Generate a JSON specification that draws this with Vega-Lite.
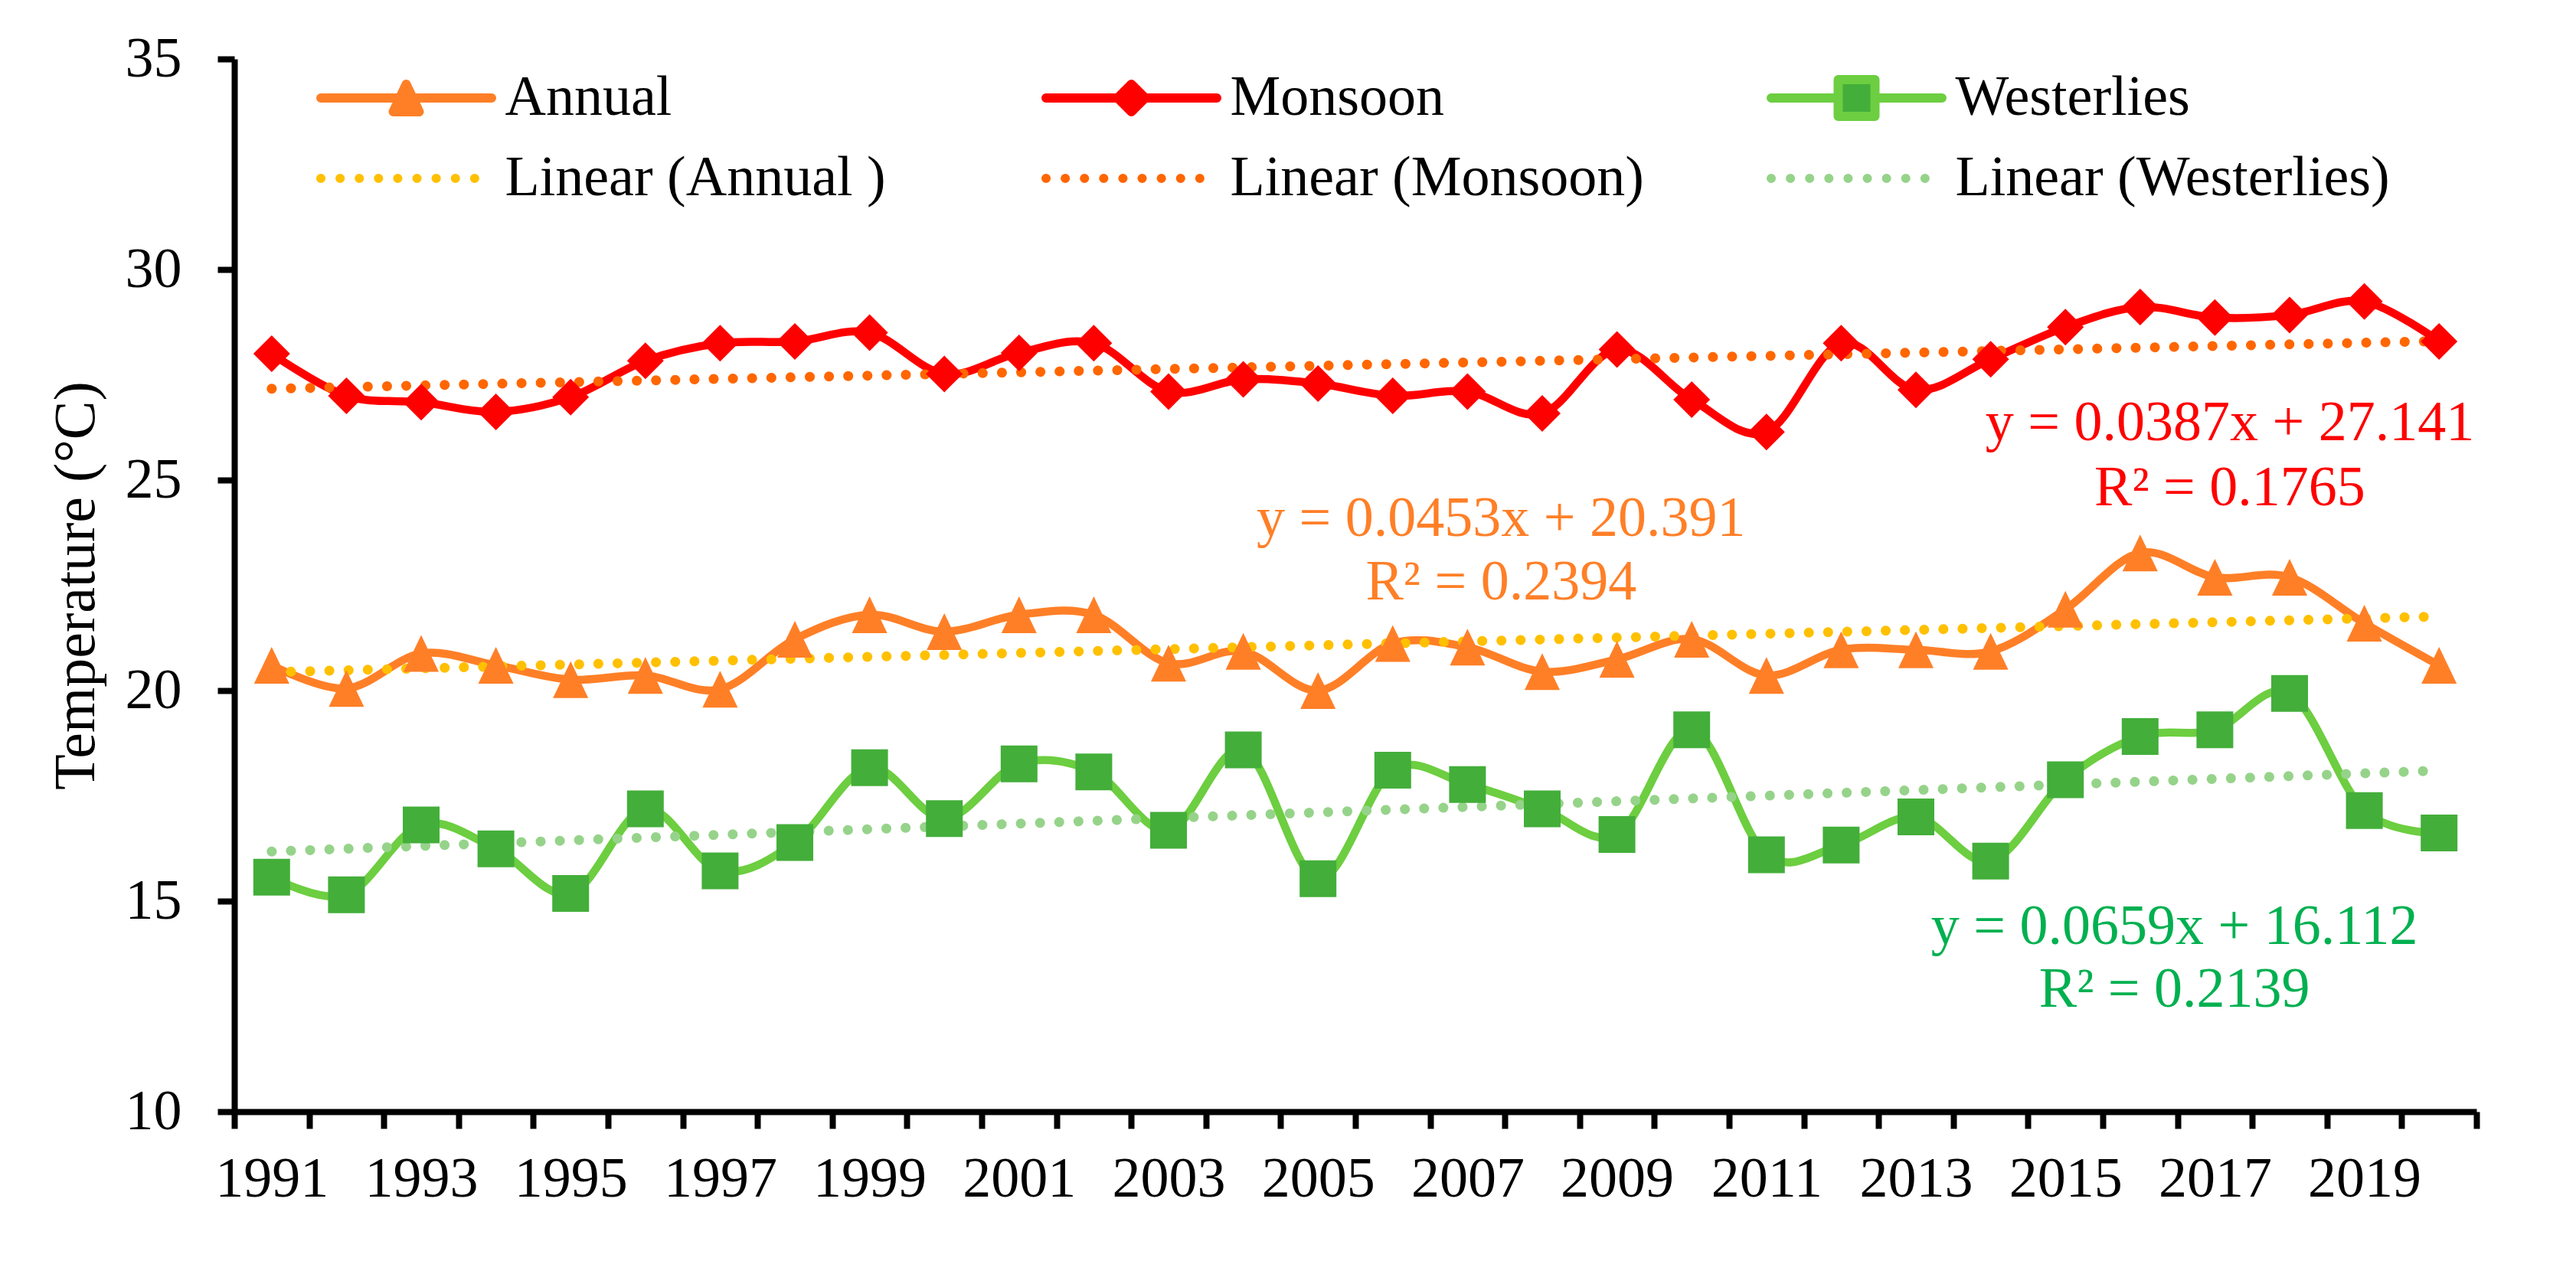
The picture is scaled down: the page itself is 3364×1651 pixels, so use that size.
{
  "$schema": "https://vega.github.io/schema/vega-lite/v6.json",
  "width": 2928,
  "height": 1375,
  "autosize": {"type": "none"},
  "padding": {"left": 306, "top": 77, "right": 130, "bottom": 199},
  "background": "white",
  "config": {
    "view": {"stroke": null},
    "font": "Liberation Serif",
    "axis": {
      "domainColor": "black", "domainWidth": 8,
      "tickColor": "black", "tickWidth": 8, "tickSize": 22,
      "labelFont": "Liberation Serif", "labelFontSize": 74, "labelColor": "black",
      "titleFont": "Liberation Serif", "titleColor": "black", "titleFontWeight": "normal",
      "grid": false
    }
  },
  "datasets": {
    "main": [
      {"year": 1991, "series": "Annual", "trend": "Linear (Annual )", "temp": 20.6},
      {"year": 1992, "series": "Annual", "trend": "Linear (Annual )", "temp": 20.05},
      {"year": 1993, "series": "Annual", "trend": "Linear (Annual )", "temp": 20.88},
      {"year": 1994, "series": "Annual", "trend": "Linear (Annual )", "temp": 20.6},
      {"year": 1995, "series": "Annual", "trend": "Linear (Annual )", "temp": 20.26},
      {"year": 1996, "series": "Annual", "trend": "Linear (Annual )", "temp": 20.36},
      {"year": 1997, "series": "Annual", "trend": "Linear (Annual )", "temp": 20.03},
      {"year": 1998, "series": "Annual", "trend": "Linear (Annual )", "temp": 21.22},
      {"year": 1999, "series": "Annual", "trend": "Linear (Annual )", "temp": 21.8},
      {"year": 2000, "series": "Annual", "trend": "Linear (Annual )", "temp": 21.4},
      {"year": 2001, "series": "Annual", "trend": "Linear (Annual )", "temp": 21.8},
      {"year": 2002, "series": "Annual", "trend": "Linear (Annual )", "temp": 21.8},
      {"year": 2003, "series": "Annual", "trend": "Linear (Annual )", "temp": 20.65},
      {"year": 2004, "series": "Annual", "trend": "Linear (Annual )", "temp": 20.93},
      {"year": 2005, "series": "Annual", "trend": "Linear (Annual )", "temp": 20.0},
      {"year": 2006, "series": "Annual", "trend": "Linear (Annual )", "temp": 21.12},
      {"year": 2007, "series": "Annual", "trend": "Linear (Annual )", "temp": 21.03},
      {"year": 2008, "series": "Annual", "trend": "Linear (Annual )", "temp": 20.45},
      {"year": 2009, "series": "Annual", "trend": "Linear (Annual )", "temp": 20.74},
      {"year": 2010, "series": "Annual", "trend": "Linear (Annual )", "temp": 21.22},
      {"year": 2011, "series": "Annual", "trend": "Linear (Annual )", "temp": 20.36},
      {"year": 2012, "series": "Annual", "trend": "Linear (Annual )", "temp": 20.97},
      {"year": 2013, "series": "Annual", "trend": "Linear (Annual )", "temp": 20.97},
      {"year": 2014, "series": "Annual", "trend": "Linear (Annual )", "temp": 20.93},
      {"year": 2015, "series": "Annual", "trend": "Linear (Annual )", "temp": 21.93},
      {"year": 2016, "series": "Annual", "trend": "Linear (Annual )", "temp": 23.27},
      {"year": 2017, "series": "Annual", "trend": "Linear (Annual )", "temp": 22.69},
      {"year": 2018, "series": "Annual", "trend": "Linear (Annual )", "temp": 22.69},
      {"year": 2019, "series": "Annual", "trend": "Linear (Annual )", "temp": 21.6},
      {"year": 2020, "series": "Annual", "trend": "Linear (Annual )", "temp": 20.6},
      {"year": 1991, "series": "Monsoon", "trend": "Linear (Monsoon)", "temp": 28.0},
      {"year": 1992, "series": "Monsoon", "trend": "Linear (Monsoon)", "temp": 27.0},
      {"year": 1993, "series": "Monsoon", "trend": "Linear (Monsoon)", "temp": 26.85},
      {"year": 1994, "series": "Monsoon", "trend": "Linear (Monsoon)", "temp": 26.62},
      {"year": 1995, "series": "Monsoon", "trend": "Linear (Monsoon)", "temp": 26.97},
      {"year": 1996, "series": "Monsoon", "trend": "Linear (Monsoon)", "temp": 27.83},
      {"year": 1997, "series": "Monsoon", "trend": "Linear (Monsoon)", "temp": 28.25},
      {"year": 1998, "series": "Monsoon", "trend": "Linear (Monsoon)", "temp": 28.29},
      {"year": 1999, "series": "Monsoon", "trend": "Linear (Monsoon)", "temp": 28.5},
      {"year": 2000, "series": "Monsoon", "trend": "Linear (Monsoon)", "temp": 27.52},
      {"year": 2001, "series": "Monsoon", "trend": "Linear (Monsoon)", "temp": 28.02},
      {"year": 2002, "series": "Monsoon", "trend": "Linear (Monsoon)", "temp": 28.25},
      {"year": 2003, "series": "Monsoon", "trend": "Linear (Monsoon)", "temp": 27.1},
      {"year": 2004, "series": "Monsoon", "trend": "Linear (Monsoon)", "temp": 27.39},
      {"year": 2005, "series": "Monsoon", "trend": "Linear (Monsoon)", "temp": 27.29},
      {"year": 2006, "series": "Monsoon", "trend": "Linear (Monsoon)", "temp": 27.0},
      {"year": 2007, "series": "Monsoon", "trend": "Linear (Monsoon)", "temp": 27.1},
      {"year": 2008, "series": "Monsoon", "trend": "Linear (Monsoon)", "temp": 26.58},
      {"year": 2009, "series": "Monsoon", "trend": "Linear (Monsoon)", "temp": 28.1},
      {"year": 2010, "series": "Monsoon", "trend": "Linear (Monsoon)", "temp": 26.91},
      {"year": 2011, "series": "Monsoon", "trend": "Linear (Monsoon)", "temp": 26.14},
      {"year": 2012, "series": "Monsoon", "trend": "Linear (Monsoon)", "temp": 28.25},
      {"year": 2013, "series": "Monsoon", "trend": "Linear (Monsoon)", "temp": 27.14},
      {"year": 2014, "series": "Monsoon", "trend": "Linear (Monsoon)", "temp": 27.87},
      {"year": 2015, "series": "Monsoon", "trend": "Linear (Monsoon)", "temp": 28.63},
      {"year": 2016, "series": "Monsoon", "trend": "Linear (Monsoon)", "temp": 29.11},
      {"year": 2017, "series": "Monsoon", "trend": "Linear (Monsoon)", "temp": 28.86},
      {"year": 2018, "series": "Monsoon", "trend": "Linear (Monsoon)", "temp": 28.92},
      {"year": 2019, "series": "Monsoon", "trend": "Linear (Monsoon)", "temp": 29.24},
      {"year": 2020, "series": "Monsoon", "trend": "Linear (Monsoon)", "temp": 28.29},
      {"year": 1991, "series": "Westerlies", "trend": "Linear (Westerlies)", "temp": 15.57},
      {"year": 1992, "series": "Westerlies", "trend": "Linear (Westerlies)", "temp": 15.15},
      {"year": 1993, "series": "Westerlies", "trend": "Linear (Westerlies)", "temp": 16.81},
      {"year": 1994, "series": "Westerlies", "trend": "Linear (Westerlies)", "temp": 16.24},
      {"year": 1995, "series": "Westerlies", "trend": "Linear (Westerlies)", "temp": 15.18},
      {"year": 1996, "series": "Westerlies", "trend": "Linear (Westerlies)", "temp": 17.19},
      {"year": 1997, "series": "Westerlies", "trend": "Linear (Westerlies)", "temp": 15.72},
      {"year": 1998, "series": "Westerlies", "trend": "Linear (Westerlies)", "temp": 16.39},
      {"year": 1999, "series": "Westerlies", "trend": "Linear (Westerlies)", "temp": 18.17},
      {"year": 2000, "series": "Westerlies", "trend": "Linear (Westerlies)", "temp": 16.96},
      {"year": 2001, "series": "Westerlies", "trend": "Linear (Westerlies)", "temp": 18.26},
      {"year": 2002, "series": "Westerlies", "trend": "Linear (Westerlies)", "temp": 18.07},
      {"year": 2003, "series": "Westerlies", "trend": "Linear (Westerlies)", "temp": 16.68},
      {"year": 2004, "series": "Westerlies", "trend": "Linear (Westerlies)", "temp": 18.59},
      {"year": 2005, "series": "Westerlies", "trend": "Linear (Westerlies)", "temp": 15.53},
      {"year": 2006, "series": "Westerlies", "trend": "Linear (Westerlies)", "temp": 18.11},
      {"year": 2007, "series": "Westerlies", "trend": "Linear (Westerlies)", "temp": 17.77},
      {"year": 2008, "series": "Westerlies", "trend": "Linear (Westerlies)", "temp": 17.19},
      {"year": 2009, "series": "Westerlies", "trend": "Linear (Westerlies)", "temp": 16.58},
      {"year": 2010, "series": "Westerlies", "trend": "Linear (Westerlies)", "temp": 19.07},
      {"year": 2011, "series": "Westerlies", "trend": "Linear (Westerlies)", "temp": 16.1},
      {"year": 2012, "series": "Westerlies", "trend": "Linear (Westerlies)", "temp": 16.33},
      {"year": 2013, "series": "Westerlies", "trend": "Linear (Westerlies)", "temp": 17.0},
      {"year": 2014, "series": "Westerlies", "trend": "Linear (Westerlies)", "temp": 15.95},
      {"year": 2015, "series": "Westerlies", "trend": "Linear (Westerlies)", "temp": 17.88},
      {"year": 2016, "series": "Westerlies", "trend": "Linear (Westerlies)", "temp": 18.91},
      {"year": 2017, "series": "Westerlies", "trend": "Linear (Westerlies)", "temp": 19.07},
      {"year": 2018, "series": "Westerlies", "trend": "Linear (Westerlies)", "temp": 19.93},
      {"year": 2019, "series": "Westerlies", "trend": "Linear (Westerlies)", "temp": 17.15},
      {"year": 2020, "series": "Westerlies", "trend": "Linear (Westerlies)", "temp": 16.62}
    ],
    "equations": [
      {"group": "Annual eq", "text": "y = 0.0453x + 20.391", "year": 2007.45, "temp": 24.08},
      {"group": "Annual eq", "text": "R² = 0.2394", "year": 2007.45, "temp": 22.57},
      {"group": "Monsoon eq", "text": "y = 0.0387x + 27.141", "year": 2017.2, "temp": 26.34},
      {"group": "Monsoon eq", "text": "R² = 0.1765", "year": 2017.2, "temp": 24.8},
      {"group": "Westerlies eq", "text": "y = 0.0659x + 16.112", "year": 2016.46, "temp": 14.38},
      {"group": "Westerlies eq", "text": "R² = 0.2139", "year": 2016.46, "temp": 12.89}
    ]
  },
  "layer": [
    {
      "data": {"name": "main"},
      "mark": {"type": "line", "interpolate": "cardinal", "strokeWidth": 10.5, "strokeCap": "round", "strokeJoin": "round"},
      "encoding": {
        "x": {
          "field": "year", "type": "quantitative",
          "scale": {"domain": [1990.5, 2020.5], "nice": false, "zero": false},
          "axis": {
            "title": null,
            "values": [1990.5, 1991.5, 1992.5, 1993.5, 1994.5, 1995.5, 1996.5, 1997.5, 1998.5, 1999.5, 2000.5, 2001.5, 2002.5, 2003.5, 2004.5, 2005.5, 2006.5, 2007.5, 2008.5, 2009.5, 2010.5, 2011.5, 2012.5, 2013.5, 2014.5, 2015.5, 2016.5, 2017.5, 2018.5, 2019.5, 2020.5],
            "labelExpr": "datum.value < 2020 && (datum.value - 1990.5) % 2 == 0 ? format(datum.value + 0.5, 'd') : ''",
            "labelOffset": 48.8,
            "labelPadding": 30,
            "labelOverlap": false,
            "labelFlush": false,
            "labelBound": false
          }
        },
        "y": {
          "field": "temp", "type": "quantitative",
          "scale": {"domain": [10, 35], "nice": false, "zero": false},
          "axis": {
            "title": "Temperature (°C)",
            "titleFontSize": 76,
            "titlePadding": 25,
            "values": [10, 15, 20, 25, 30, 35],
            "labelPadding": 47,
            "labelOverlap": false,
            "labelFlush": false
          }
        },
        "color": {
          "field": "series", "type": "nominal",
          "scale": {
            "domain": ["Annual", "Linear (Annual )", "Monsoon", "Linear (Monsoon)", "Westerlies", "Linear (Westerlies)"],
            "range": ["#FF7F27", "#FFC000", "#FF0000", "#FF6600", "#6CCE40", "#96D38A"]
          },
          "legend": {
            "title": null,
            "orient": "none",
            "legendX": 107,
            "legendY": 14,
            "columns": 3,
            "gridAlign": "all",
            "columnPadding": 132,
            "rowPadding": 31,
            "padding": 0,
            "symbolSize": 3600,
            "symbolStrokeWidth": 12,
            "symbolOffset": 80.5,
            "labelOffset": 92,
            "labelFont": "Liberation Serif",
            "labelFontSize": 74,
            "labelColor": "black",
            "labelLimit": 2000,
            "labelBaseline": "middle",
            "encode": {
              "symbols": {
                "update": {
                  "shape": {"signal": "datum.value == 'Annual' ? 'M-3.717,0L3.717,0M0,-0.6L0.567,0.6L-0.567,0.6Z' : datum.value == 'Monsoon' ? 'M-3.717,0L3.717,0M0,-0.6L0.6,0L0,0.6L-0.6,0Z' : datum.value == 'Westerlies' ? 'M-3.717,0L-0.9,0M0.9,0L3.717,0M-0.8,-0.8L0.8,-0.8L0.8,0.8L-0.8,0.8Z' : 'M-3.717,0L3.717,0'"},
                  "fill": {"signal": "datum.value == 'Westerlies' ? '#43AE3A' : datum.value == 'Annual' ? '#FF7F27' : datum.value == 'Monsoon' ? '#FF0000' : 'transparent'"},
                  "stroke": {"signal": "datum.value == 'Annual' ? '#FF7F27' : datum.value == 'Monsoon' ? '#FF0000' : datum.value == 'Westerlies' ? '#6CCE40' : datum.value == 'Linear (Annual )' ? '#FFC000' : datum.value == 'Linear (Monsoon)' ? '#FF6600' : '#96D38A'"},
                  "fillOpacity": {"value": 1},
                  "strokeOpacity": {"value": 1},
                  "opacity": {"value": 1},
                  "strokeDash": {"signal": "indexof(datum.value, 'Linear') == 0 ? [0.1, 25] : [1, 0]"},
                  "strokeCap": {"value": "round"},
                  "strokeJoin": {"value": "round"}
                }
              }
            }
          }
        }
      }
    },
    {
      "data": {"name": "main"},
      "transform": [{"regression": "temp", "on": "year", "groupby": ["trend"]}],
      "mark": {"type": "line", "strokeWidth": 13, "strokeDash": [0.1, 25], "strokeCap": "round"},
      "encoding": {
        "x": {"field": "year", "type": "quantitative"},
        "y": {"field": "temp", "type": "quantitative"},
        "color": {"field": "trend", "type": "nominal"}
      }
    },
    {
      "data": {"name": "main"},
      "mark": {"type": "point", "filled": true, "size": 2304, "opacity": 1, "strokeWidth": 0},
      "encoding": {
        "x": {"field": "year", "type": "quantitative"},
        "y": {"field": "temp", "type": "quantitative"},
        "shape": {
          "field": "series", "type": "nominal",
          "scale": {"domain": ["Annual", "Monsoon", "Westerlies"], "range": ["M0,-1L0.96,1L-0.96,1Z", "M0,-1L1,0L0,1L-1,0Z", "M-1,-1L1,-1L1,1L-1,1Z"]},
          "legend": null
        },
        "fill": {
          "field": "series", "type": "nominal",
          "scale": {
            "domain": ["Annual", "Monsoon", "Westerlies", "Annual eq", "Monsoon eq", "Westerlies eq"],
            "range": ["#FF7F27", "#FF0000", "#43AE3A", "#FF7F27", "#FF0000", "#00B050"]
          },
          "legend": null
        }
      }
    },
    {
      "data": {"name": "equations"},
      "mark": {"type": "text", "font": "Liberation Serif", "fontSize": 74, "align": "center", "baseline": "middle"},
      "encoding": {
        "x": {"field": "year", "type": "quantitative"},
        "y": {"field": "temp", "type": "quantitative"},
        "text": {"field": "text"},
        "fill": {"field": "group", "type": "nominal", "legend": null}
      }
    }
  ]
}
